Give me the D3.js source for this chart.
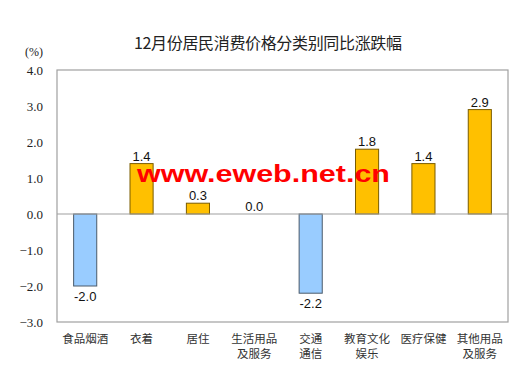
<!DOCTYPE html>
<html><head><meta charset="utf-8">
<script src="https://cdn.jsdelivr.net/npm/d3@7"></script>
<style>body{margin:0;background:#fff;} svg{display:block;}</style>
</head><body>
<svg id="c" width="525" height="376"></svg>
<script>
const categories = [["食品烟酒"],["衣着"],["居住"],["生活用品","及服务"],["交通","通信"],["教育文化","娱乐"],["医疗保健"],["其他用品","及服务"]];
const values = [-2.0, 1.4, 0.3, 0.0, -2.2, 1.8, 1.4, 2.9];
const yTicks = [4.0, 3.0, 2.0, 1.0, 0.0, -1.0, -2.0, -3.0];
const title = "12月份居民消费价格分类别同比涨跌幅";
const unit = "(%)";
const watermark = "www.eweb.net.cn";

const svg = d3.select("#c");
const m = {l:57, r:508, t:70, b:322};
const x = d3.scaleBand().domain(d3.range(categories.length)).range([m.l, m.r]).paddingInner(0.59).paddingOuter(0.295);
const y = d3.scaleLinear().domain([-3, 4]).range([m.b, m.t]);

svg.append("text").attr("x", 268).attr("y", 49).attr("text-anchor","middle")
  .attr("font-family","'Noto Sans CJK SC', sans-serif").attr("font-size",16).attr("fill","#222")
  .attr("textLength",268).attr("lengthAdjust","spacing").text(title);

svg.append("text").attr("x", 43).attr("y", 56).attr("text-anchor","end")
  .attr("font-family","'Liberation Serif', serif").attr("font-size",12).attr("fill","#222").text(unit);

// y axis labels
const ya = svg.append("g").attr("transform",`translate(${m.l},0)`)
  .call(d3.axisLeft(y).tickValues(yTicks).tickFormat(d3.format(".1f")).tickSize(0).tickPadding(14));
ya.select(".domain").remove();
ya.selectAll("text").attr("font-family","'Liberation Serif', serif").attr("font-size",13).attr("fill","#222");

// frame
svg.append("rect").attr("x",m.l).attr("y",m.t).attr("width",m.r-m.l).attr("height",m.b-m.t)
  .attr("fill","none").attr("stroke","#a0a0a0").attr("stroke-width",1.2);

// bars
svg.append("g").selectAll("rect").data(values).join("rect")
  .attr("x",(d,i)=>x(i)).attr("width",x.bandwidth())
  .attr("y",d=>y(Math.max(0,d))).attr("height",d=>Math.abs(y(d)-y(0)))
  .attr("fill",d=>d<0?"#99CCFF":"#FFC000")
  .attr("stroke",d=>d<0?"#4a5a6a":"#7a5c00").attr("stroke-width",1)
  .attr("display",d=>d===0?"none":null);

// zero line
svg.append("line").attr("x1",m.l).attr("x2",m.r).attr("y1",y(0)).attr("y2",y(0))
  .attr("stroke","#a0a0a0").attr("stroke-width",1.2);

// value labels
svg.append("g").selectAll("text").data(values).join("text")
  .attr("x",(d,i)=>x(i)+x.bandwidth()/2)
  .attr("y",d=>d<0?y(d)+15:y(d)-3)
  .attr("text-anchor","middle").attr("font-family","'Liberation Sans', Arial, sans-serif")
  .attr("font-size",13).attr("fill","#111").text(d=>d.toFixed(1));

// x labels
const xl = svg.append("g").selectAll("text").data(categories).join("text")
  .attr("text-anchor","middle").attr("font-family","'Noto Sans CJK SC', sans-serif")
  .attr("font-size",11.5).attr("fill","#333");
xl.each(function(d,i){
  const t = d3.select(this);
  d.forEach((line,j)=>{
    t.append("tspan").attr("x",x(i)+x.bandwidth()/2).attr("y",343+j*15).text(line);
  });
});

// watermark
svg.append("text").attr("x",137).attr("y",182)
  .attr("font-family","'Liberation Sans', Arial, sans-serif").attr("font-weight","bold")
  .attr("font-size",23).attr("fill","#ff0000")
  .attr("textLength",253).attr("lengthAdjust","spacingAndGlyphs").text(watermark);
</script>
</body></html>
